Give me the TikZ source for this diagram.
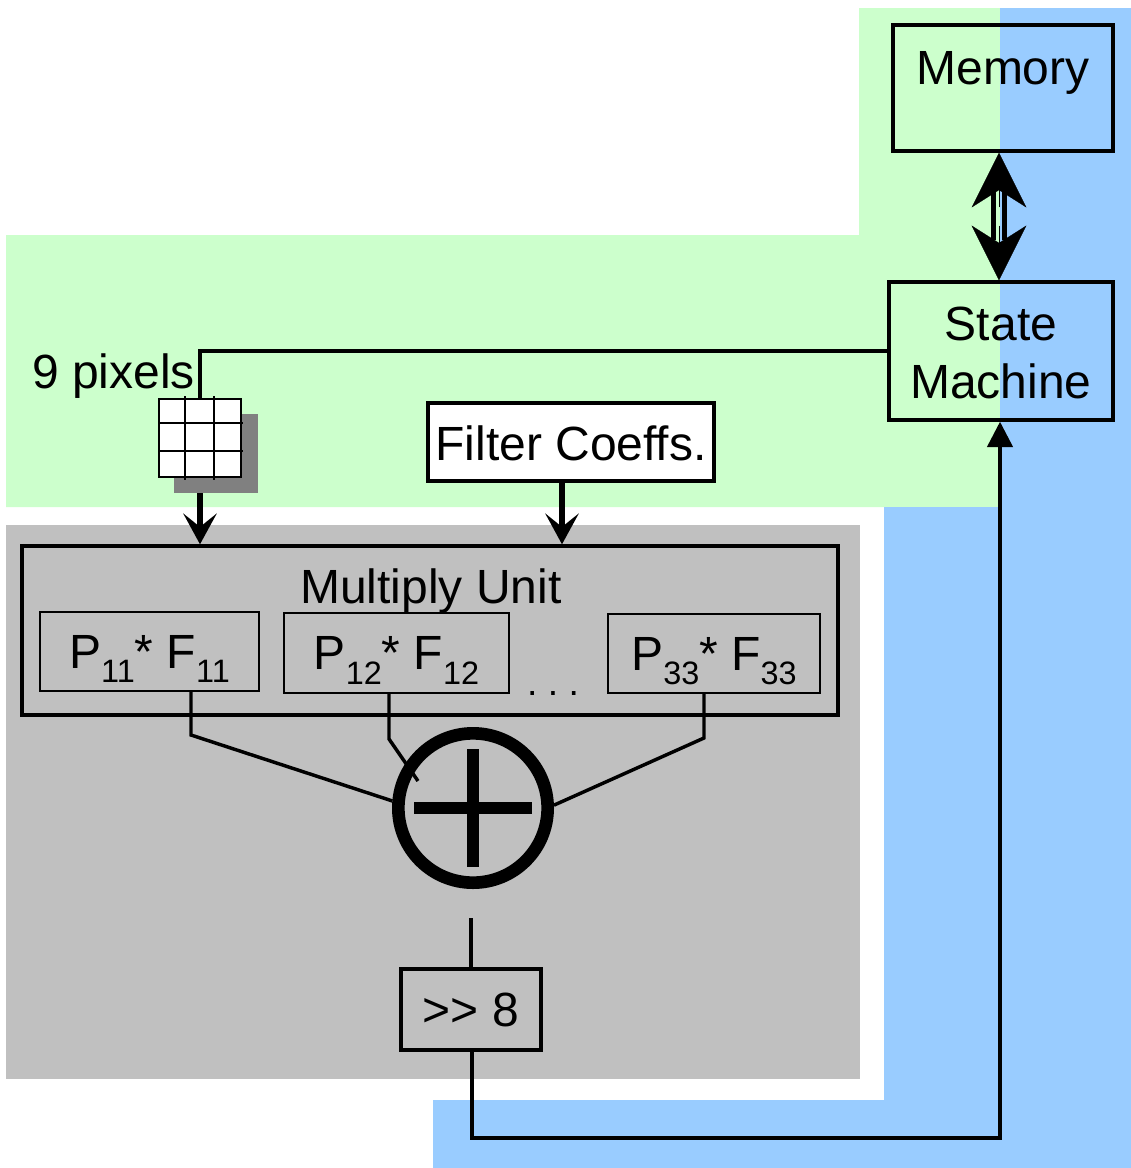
\documentclass[tikz,border=0pt]{standalone}
\usepackage{fontspec}
\setmainfont{Liberation Sans}
\usetikzlibrary{arrows.meta}

\definecolor{greenbg}{HTML}{CCFFCC}
\definecolor{bluebg}{HTML}{99CCFF}
\definecolor{unitbg}{HTML}{C0C0C0}
\definecolor{shadowbg}{HTML}{808080}

\newcommand{\subidx}[1]{\raisebox{-11pt}{\fontsize{24.3}{25}\selectfont #1}}
\newcommand{\lowered}[2]{\raisebox{-#1}[\height][0pt]{#2}}

\tikzset{
  every node/.style={font=\fontsize{36}{43.5}\selectfont, inner sep=0pt},
  box/.style={draw, rectangle, line width=2.6pt, align=center},
  thinbox/.style={draw, rectangle, line width=1.7pt},
  ptext/.style={thinbox, text height=36pt, text depth=11pt},
  wire/.style={line width=2.6pt},
  bigarrow/.style={line width=4.5pt, -{Stealth[length=23pt,width=25pt,inset=10pt]}},
  headtip/.style={-{Stealth[length=41pt,width=41pt,inset=13pt]}, line width=0.1pt},
}

\begin{document}
\begin{tikzpicture}[x=0.75pt, y=-0.75pt]
  \fill[white] (0,0) rectangle (1131,1168);
  \useasboundingbox (0,0) rectangle (1131,1168);

  \fill[greenbg] (859,8) -- (1000,8) -- (1000,507) -- (6,507) -- (6,235) -- (859,235) -- cycle;
  \fill[bluebg] (1000,8) -- (1131,8) -- (1131,1168) -- (433,1168) -- (433,1100) -- (884,1100) -- (884,507) -- (1000,507) -- cycle;
  \fill[unitbg] (6,525) rectangle (860,1079);

  \node[box, minimum width=165pt, minimum height=94.5pt] (memory) at (1003,88) {};
  \node[anchor=base] (memorytext) at (1003,84) {Memory};
  \node[box, minimum width=168pt, minimum height=103.5pt] (state) at (1001,351) {\lowered{1.2pt}{State}\\\lowered{1.2pt}{Machine}};
  \node[box, fill=white, minimum width=214.5pt, minimum height=58.5pt] (filter) at (571,442) {\lowered{0.8pt}{Filter Coeffs.}};

  \node[anchor=base] (pixels) at (113.5,388) {9 pixels};
  \node[fill=shadowbg, minimum width=63pt, minimum height=59pt] (gridshadow) at (216,453.5) {};
  \node[thinbox, fill=white, minimum width=61.5pt, minimum height=58.5pt] (grid) at (200,438) {};
  \foreach \gx in {185,214}
    \draw[line width=1.3pt] (\gx,396) -- (\gx,480);
  \foreach \gy in {423,451}
    \draw[line width=1.3pt] (159,\gy) -- (243,\gy);

  \node[box, minimum width=612pt, minimum height=126.75pt] (multunit) at (430,630.5) {};
  \node[anchor=base] (multtext) at (431,603) {Multiply Unit};
  \node[ptext, minimum width=164.25pt, minimum height=59.25pt] (p11) at (149.5,651.5) {P\subidx{11}* F\subidx{11}};
  \node[ptext, minimum width=168.75pt, minimum height=60pt] (p12) at (396.5,653) {P\subidx{12}* F\subidx{12}};
  \node[ptext, minimum width=159pt, minimum height=59.25pt] (p33) at (714,653.5) {P\subidx{33}* F\subidx{33}};
  \node[anchor=base, font=\fontsize{28}{28}\selectfont\frenchspacing] (dots) at (553,695) {. . .};

  \node[draw, circle, line width=9.5pt, minimum size=112pt] (adder) at (473,808) {};
  \draw[line width=9.5pt] ([xshift=-44pt]adder.center) -- ([xshift=44pt]adder.center);
  \draw[line width=9.5pt] ([yshift=-44pt]adder.center) -- ([yshift=44pt]adder.center);
  \node[box, minimum width=105pt, minimum height=60.75pt] (shift) at (471,1009.5) {>{}> 8};

  \coordinate (p11turn) at (191,735);
  \coordinate (p12turn) at (389,739);
  \coordinate (p33turn) at (704,738);
  \coordinate (p12end) at (418,781);
  \coordinate (shiftin) at (471,918);
  \coordinate (busturn) at (1000,1138);
  \coordinate (linkx) at (999,215);

  \draw[wire] (p11turn |- p11.south) -- (p11turn) -- (adder.175);
  \draw[wire] (p12turn |- p12.south) -- (p12turn) -- (p12end);
  \draw[wire] (p33turn |- p33.south) -- (p33turn) -- (adder.2);
  \draw[wire] (shiftin) -- (shift.north);
  \draw[wire] (state.west) -| (grid.north);
  \draw[wire, -{Stealth[length=19pt,width=19pt,inset=0pt]}] ([xshift=0.75pt]shift.south) |- (busturn) -- (busturn |- state.south);

  \draw[bigarrow] (grid.south |- gridshadow.south) -- (grid.south |- multunit.north);
  \draw[bigarrow] ([xshift=-6.75pt]filter.south) -- ([xshift=-6.75pt]filter.south |- multunit.north);

  % double arrow between memory and state machine
  \draw[headtip] ([yshift=-41pt]linkx |- memory.south) -- (linkx |- memory.south);
  \draw[headtip] ([yshift=41pt]linkx |- state.north) -- (linkx |- state.north);
  \draw[line width=3.6pt] ([xshift=-4.2pt,yshift=-26pt]linkx |- memory.south) -- ([xshift=-4.2pt,yshift=30pt]linkx |- state.north);
  \draw[line width=3.6pt] ([xshift=4.2pt,yshift=-26pt]linkx |- memory.south) -- ([xshift=4.2pt,yshift=30pt]linkx |- state.north);
\end{tikzpicture}
\end{document}
